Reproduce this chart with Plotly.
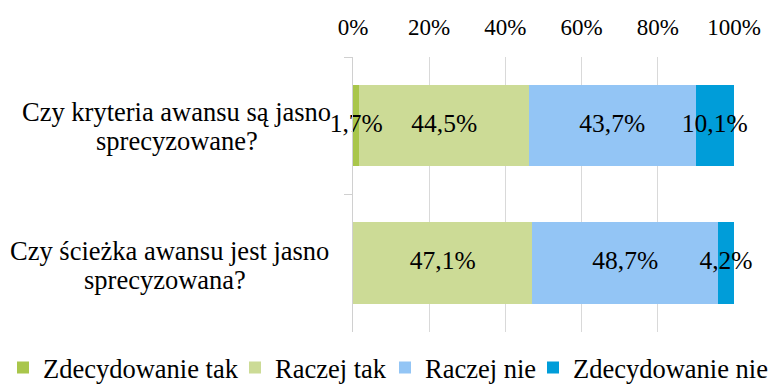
import plotly.graph_objects as go

# Survey questions (y categories) and the text lines drawn beside each bar
questions = ["Czy kryteria awansu są jasno sprecyzowane?",
             "Czy ścieżka awansu jest jasno sprecyzowana?"]
question_lines = [["Czy kryteria awansu są jasno", "sprecyzowane?"],
                  ["Czy ścieżka awansu jest jasno", "sprecyzowana?"]]

# Answer shares in percent, one list per answer option
series_names = ["Zdecydowanie tak", "Raczej tak", "Raczej nie", "Zdecydowanie nie"]
zdecydowanie_tak = [1.7, 0.0]
raczej_tak = [44.5, 47.1]
raczej_nie = [43.7, 48.7]
zdecydowanie_nie = [10.1, 4.2]

x_ticks = [0, 20, 40, 60, 80, 100]

series_values = [zdecydowanie_tak, raczej_tak, raczej_nie, zdecydowanie_nie]
colors = ["#A9C64B", "#CCDB96", "#93C5F5", "#009DD9"]

FONT = "Liberation Serif, Times New Roman, serif"

# one single-entry legend per series, laid out in a row under the chart
legend_ids = ["legend", "legend2", "legend3", "legend4"]
legend_x = [3 / 773, 235 / 773, 385 / 773, 533 / 773]


def pct_label(v):
    return (f"{v:.1f}".replace(".", ",") + "%") if v > 0 else ""


fig = go.Figure()
for name, vals, col, lid in zip(series_names, series_values, colors, legend_ids):
    fig.add_trace(go.Bar(
        name=name,
        y=questions,
        x=vals,
        orientation="h",
        marker=dict(color=col, line=dict(width=0)),
        width=0.59,
        legend=lid,
        hoverinfo="skip",
    ))

# Value labels centred on each segment of the stacked bars
lab_x, lab_y, lab_t = [], [], []
for qi, q in enumerate(questions):
    start = 0.0
    for vals in series_values:
        v = vals[qi]
        if v > 0:
            lab_x.append(start + v / 2)
            lab_y.append(q)
            lab_t.append(pct_label(v))
        start += v
fig.add_trace(go.Scatter(
    x=lab_x, y=lab_y, text=lab_t,
    mode="text", textposition="middle center",
    textfont=dict(family=FONT, size=25.5, color="black"),
    showlegend=False, hoverinfo="skip", cliponaxis=False,
))

# Question labels, one centred annotation per line
line_centers = [[-177, -176], [-184, -188]]
line_offsets = [[14, -15], [12, -17]]
for q, lines, centers, offs in zip(questions, question_lines, line_centers, line_offsets):
    for txt, cx, dy in zip(lines, centers, offs):
        fig.add_annotation(
            x=0, xref="paper", y=q, yref="y",
            text=txt, showarrow=False,
            xanchor="center", yanchor="middle",
            xshift=cx, yshift=dy,
            font=dict(family=FONT, size=26.5, color="black"),
        )

legend_common = dict(
    orientation="h",
    xref="container", yref="container",
    xanchor="left", y=0.045, yanchor="middle",
    font=dict(family=FONT, size=26.5, color="black"),
    itemclick=False, bgcolor="rgba(0,0,0,0)",
)

fig.update_layout(
    barmode="stack",
    width=773, height=385,
    margin=dict(l=353, r=37, t=57, b=52),
    paper_bgcolor="white", plot_bgcolor="white",
    bargap=0.41,
    font=dict(family=FONT, color="black"),
    xaxis=dict(
        side="top",
        range=[0, 100],
        tickvals=x_ticks,
        ticktext=[f"{t}%" for t in x_ticks],
        showgrid=True, gridcolor="#D9D9D9", gridwidth=1.3,
        zeroline=False, showline=False,
        ticks="",
        ticklabelstandoff=16,
        tickfont=dict(family=FONT, size=23, color="black"),
        fixedrange=True,
    ),
    yaxis=dict(
        type="category",
        categoryorder="array", categoryarray=questions,
        autorange="reversed",
        showticklabels=False,
        showgrid=False, zeroline=False,
        showline=True, linecolor="#D0D0D0", linewidth=1.3,
        ticks="outside", tickson="boundaries", ticklen=8,
        tickcolor="#D0D0D0", tickwidth=1.3,
        fixedrange=True,
    ),
)
for lid, lx in zip(legend_ids, legend_x):
    fig.update_layout({lid: dict(legend_common, x=lx)})

fig.write_html("out.html")
